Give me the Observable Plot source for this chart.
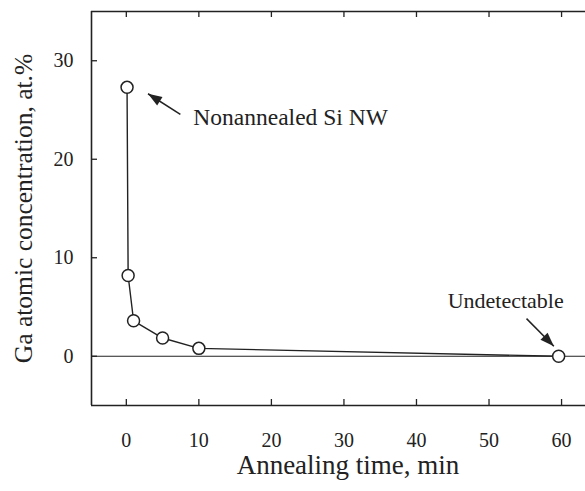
<!DOCTYPE html>
<html>
<head>
<meta charset="utf-8">
<script src="https://cdn.jsdelivr.net/npm/d3@7"></script>
<script src="https://cdn.jsdelivr.net/npm/@observablehq/plot@0.6"></script>
<style>
  html, body { margin: 0; padding: 0; background: #fff; }
  #chart svg { display: block; }
</style>
</head>
<body>
<div id="chart"></div>
<script>
// ---- data ----
const times = [0.1, 0.25, 1, 5, 10, 59.6];          // annealing time, min
const concentrations = [27.3, 8.2, 3.6, 1.85, 0.8, 0]; // Ga at.%
const xTicks = [0, 10, 20, 30, 40, 50, 60];
const yTicks = [0, 10, 20, 30];
const xDomain = [-4.8, 63.3];
const yDomain = [-5, 35];
const xTitle = "Annealing time, min";
const yTitle = "Ga atomic concentration, at.%";
const noteLabels = ["Nonannealed Si NW", "Undetectable"];
const noteX = [9.24, 52.3];
const noteY = [24.2, 5.6];
const noteAnchor = ["start", "middle"];
const arrowFromX = [7.45, 55.17];
const arrowFromY = [24.56, 3.82];
const arrowToX = [2.99, 58.94];
const arrowToY = [26.65, 1.01];

const points = times.map((t, i) => ({t, c: concentrations[i]}));
const notes = noteLabels.map((label, i) => ({label, x: noteX[i], y: noteY[i], anchor: noteAnchor[i]}));
const arrows = arrowFromX.map((x1, i) => ({x1, y1: arrowFromY[i], x2: arrowToX[i], y2: arrowToY[i]}));

const ink = "#222";
const font = "'Liberation Serif', 'Times New Roman', serif";

// narrow filled arrowhead with its tip at the origin, pointing up
const headSymbol = {
  draw(context, size) {
    const L = 14, w = 5;
    context.moveTo(0, 0);
    context.lineTo(w, L);
    context.lineTo(-w, L);
    context.closePath();
  }
};

const base = {
  width: 585,
  height: 491,
  marginLeft: 91,
  marginRight: 0,
  marginTop: 11,
  marginBottom: 86,
  style: {fontFamily: font, background: "#fff", color: ink, overflow: "visible"},
  x: {domain: xDomain},
  y: {domain: yDomain}
};

function build(angles) {
  return Plot.plot({
    ...base,
    marks: [
      // frame (left, top, bottom) and zero line
      Plot.ruleX([xDomain[0]], {stroke: ink, strokeWidth: 1.6}),
      Plot.ruleY(yDomain, {stroke: ink, strokeWidth: 1.6}),
      Plot.ruleY([0], {stroke: ink, strokeWidth: 1.2}),
      // inward ticks
      Plot.tickX(xTicks, {x: d => d, stroke: ink, strokeWidth: 1.3, insetTop: 388}),
      Plot.tickX(xTicks, {x: d => d, stroke: ink, strokeWidth: 1.3, insetBottom: 388}),
      Plot.tickY(yTicks, {y: d => d, stroke: ink, strokeWidth: 1.3, insetRight: 488}),
      // tick labels
      Plot.axisX({ticks: xTicks, tickSize: 0, tickPadding: 27.5, fontSize: 20, label: null, tickFormat: d3.format("d")}),
      Plot.axisY({ticks: yTicks, tickSize: 0, tickPadding: 18, fontSize: 20, label: null, tickFormat: d3.format("d")}),
      // axis titles
      Plot.text([xTitle], {text: d => d, frameAnchor: "bottom", textAnchor: "middle", dx: 9.5, dy: 59.5, lineAnchor: "middle", fontSize: 27, fill: ink}),
      Plot.text([yTitle], {text: d => d, frameAnchor: "left", textAnchor: "middle", rotate: -90, dx: -68, dy: 0, lineAnchor: "middle", fontSize: 25.5, fill: ink}),
      // data
      Plot.line(points, {x: "t", y: "c", stroke: ink, strokeWidth: 1.4}),
      Plot.dot(points, {x: "t", y: "c", r: 6, fill: "white", stroke: ink, strokeWidth: 1.5}),
      // annotations
      Plot.link(arrows, {x1: "x1", y1: "y1", x2: "x2", y2: "y2", stroke: ink, strokeWidth: 1.5}),
      Plot.dot(arrows, {x: "x2", y: "y2", symbol: headSymbol, r: 5, fill: ink, stroke: "none",
        rotate: (d, i) => angles ? angles[i] : 0}),
      Plot.text(notes.filter(d => d.anchor === "start"), {x: "x", y: "y", text: "label", textAnchor: "start", lineAnchor: "middle", fontSize: 23.5, fill: ink}),
      Plot.text(notes.filter(d => d.anchor === "middle"), {x: "x", y: "y", text: "label", textAnchor: "middle", lineAnchor: "middle", fontSize: 22, fill: ink}),
    ]
  });
}

// first pass to get scales, then compute arrowhead rotation in pixel space
const probe = build(null);
const sx = probe.scale("x"), sy = probe.scale("y");
const angles = arrows.map(a => {
  const dx = sx.apply(a.x2) - sx.apply(a.x1);
  const dy = sy.apply(a.y2) - sy.apply(a.y1);
  return Math.atan2(dx, -dy) * 180 / Math.PI;
});
document.getElementById("chart").append(build(angles));
</script>
</body>
</html>
